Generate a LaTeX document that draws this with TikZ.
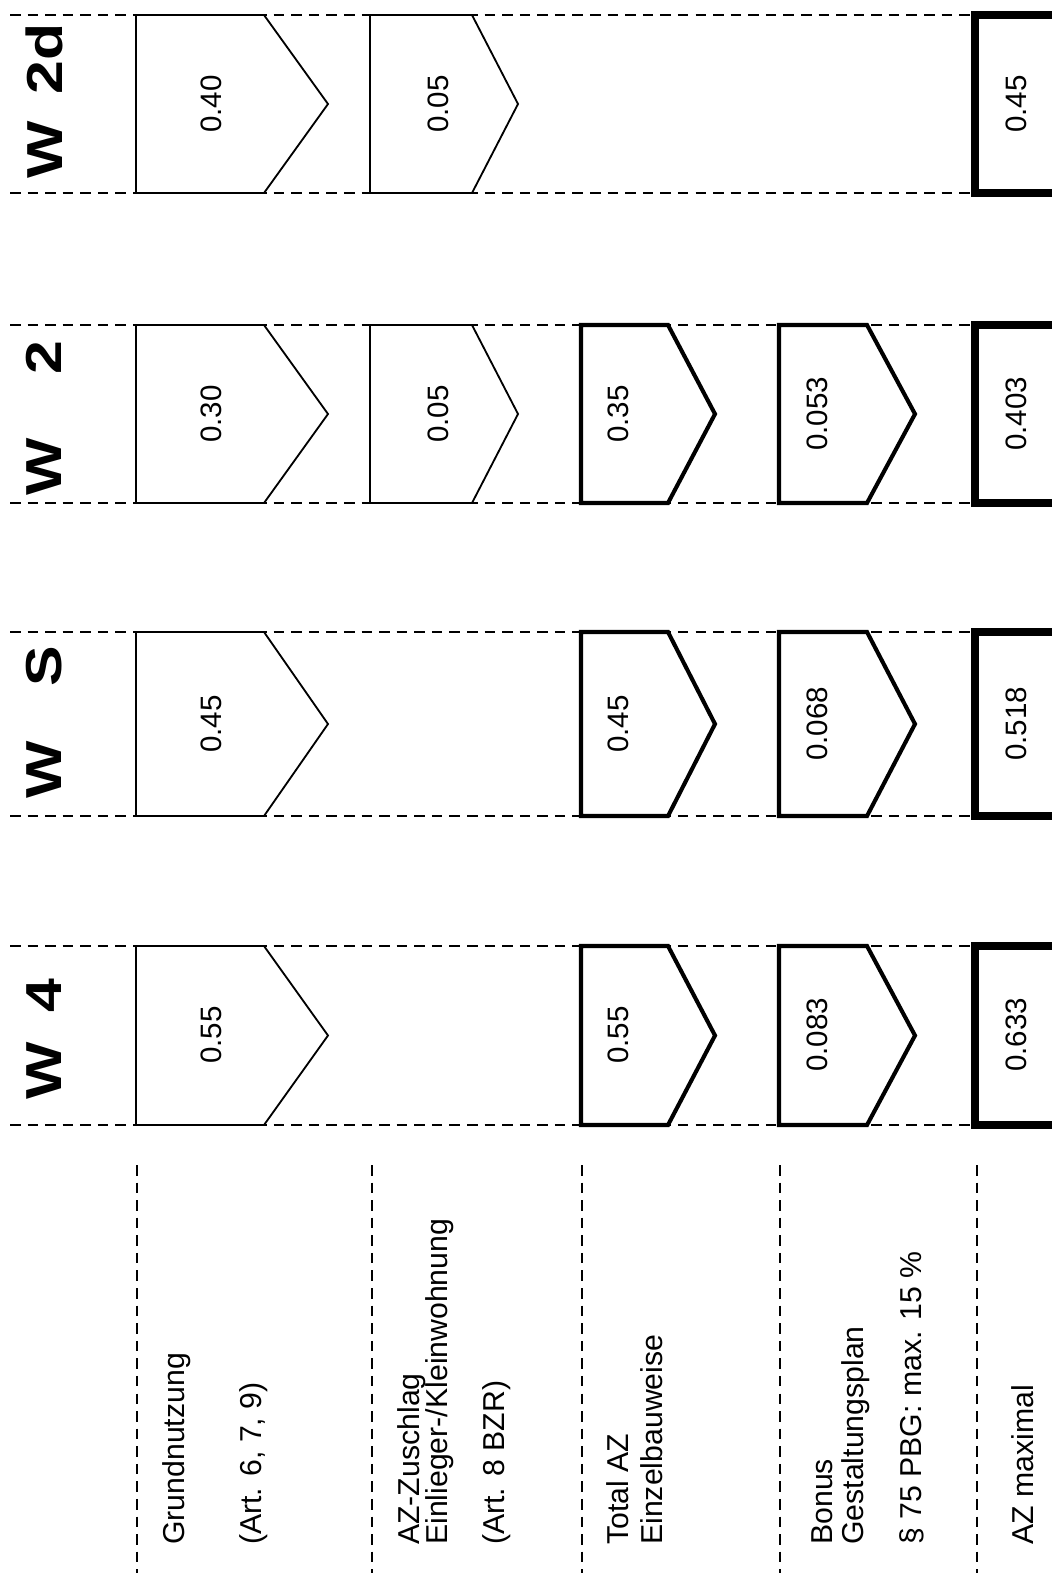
\documentclass[tikz,border=0pt]{standalone}
\usepackage{fontspec}
\setmainfont{Liberation Sans}

% pentagon box: style, left, shoulder, tip, top, bottom
\newcommand{\azpfeil}[6]{%
  \draw[#1] (#2,#5) -- (#3,#5) -- (#4,{(#5+#6)/2}) -- (#3,#6) -- (#2,#6) -- cycle;}

\begin{document}
\begin{tikzpicture}[x=0.025cm,y=-0.025cm,
    trenn/.style={line width=2pt,dash pattern=on 7.5pt off 5pt},
    duenn/.style={draw,fill=white,line width=1.3pt},
    dick/.style={draw,fill=white,line width=2.9pt},
    maxbox/.style={draw,fill=white,line width=5pt},
    wert/.style={rotate=90,inner sep=0pt,font=\fontsize{21}{24}\selectfont},
    zone/.style={rotate=90,xscale=1.2,inner sep=0pt,font=\fontsize{36}{40}\selectfont\bfseries},
    beschr/.style={rotate=90,anchor=base west,inner sep=0pt,font=\fontsize{21.5}{25}\selectfont}
]
\fill[white] (0,0) rectangle (1052,1573);
\useasboundingbox (0,0) rectangle (1052,1573);

% row lines
\draw[trenn] (10,15) -- (1052,15);
\draw[trenn] (10,193) -- (1052,193);
\draw[trenn] (10,325) -- (1052,325);
\draw[trenn] (10,503) -- (1052,503);
\draw[trenn] (10,632) -- (1052,632);
\draw[trenn] (10,816) -- (1052,816);
\draw[trenn] (10,946) -- (1052,946);
\draw[trenn] (10,1125) -- (1052,1125);

% column lines
\draw[trenn] (137,1165) -- (137,1573);
\draw[trenn] (372,1165) -- (372,1573);
\draw[trenn] (582,1165) -- (582,1573);
\draw[trenn] (780,1165) -- (780,1573);
\draw[trenn] (977,1165) -- (977,1573);

% W 2d
\node[zone] (w2d) at (44,101) {W\hspace{0.45em}2d};
\azpfeil{duenn}{136}{264}{328}{15}{193}
\azpfeil{duenn}{370}{472}{518}{15}{193}
\draw[maxbox] (975,15) rectangle (1090,193);
\node[wert] (w2d-grund) at (211,104) {0.40};
\node[wert] (w2d-zuschlag) at (438,104) {0.05};
\node[wert] (w2d-max) at (1016,104) {0.45};

% W 2
\node[zone] (w2) at (44,418) {W\hspace{1.05em}2};
\azpfeil{duenn}{136}{264}{328}{325}{503}
\azpfeil{duenn}{370}{472}{518}{325}{503}
\azpfeil{dick}{581}{668}{715}{325}{503}
\azpfeil{dick}{779}{867}{915}{325}{503}
\draw[maxbox] (975,325) rectangle (1090,503);
\node[wert] (w2-grund) at (211,414) {0.30};
\node[wert] (w2-zuschlag) at (438,414) {0.05};
\node[wert] (w2-total) at (618,414) {0.35};
\node[wert] (w2-bonus) at (817,414) {0.053};
\node[wert] (w2-max) at (1016,414) {0.403};

% W S
\node[zone] (ws) at (44,722) {W\hspace{0.9em}S};
\azpfeil{duenn}{136}{264}{328}{632}{816}
\azpfeil{dick}{581}{668}{715}{632}{816}
\azpfeil{dick}{779}{867}{915}{632}{816}
\draw[maxbox] (975,632) rectangle (1090,816);
\node[wert] (ws-grund) at (211,724) {0.45};
\node[wert] (ws-total) at (618,724) {0.45};
\node[wert] (ws-bonus) at (817,724) {0.068};
\node[wert] (ws-max) at (1016,724) {0.518};

% W 4
\node[zone] (w4) at (44,1039) {W\hspace{0.5em}4};
\azpfeil{duenn}{136}{264}{328}{946}{1125}
\azpfeil{dick}{581}{668}{715}{946}{1125}
\azpfeil{dick}{779}{867}{915}{946}{1125}
\draw[maxbox] (975,946) rectangle (1090,1125);
\node[wert] (w4-grund) at (211,1035) {0.55};
\node[wert] (w4-total) at (618,1035) {0.55};
\node[wert] (w4-bonus) at (817,1035) {0.083};
\node[wert] (w4-max) at (1016,1035) {0.633};

% row titles
\node[beschr] (grund1) at (184,1545) {Grundnutzung};
\node[beschr] (grund2) at (261,1545) {(Art. 6, 7, 9)};
\node[beschr] (zuschlag1) at (419,1545) {AZ-Zuschlag};
\node[beschr] (zuschlag2) at (447,1545) {Einlieger-/Kleinwohnung};
\node[beschr] (zuschlag3) at (504,1545) {(Art. 8 BZR)};
\node[beschr] (total1) at (628,1545) {Total AZ};
\node[beschr] (total2) at (662,1545) {Einzelbauweise};
\node[beschr] (bonus1) at (832,1545) {Bonus};
\node[beschr] (bonus2) at (863,1545) {Gestaltungsplan};
\node[beschr] (bonus3) at (921,1545) {§ 75 PBG: max. 15 \%};
\node[beschr] (max1) at (1033,1545) {AZ maximal};
\end{tikzpicture}
\end{document}
